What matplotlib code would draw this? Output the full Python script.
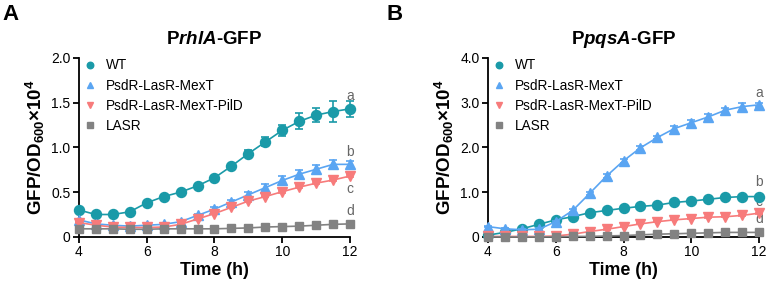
import matplotlib.pyplot as plt
import numpy as np

plt.rcParams['font.family'] = ['Liberation Sans', 'DejaVu Sans']
plt.rcParams['mathtext.fontset'] = 'custom'
plt.rcParams['mathtext.rm'] = 'Liberation Sans:bold'
plt.rcParams['mathtext.bf'] = 'Liberation Sans:bold'
plt.rcParams['mathtext.it'] = 'Liberation Sans:italic:bold'

time = [4, 4.5, 5, 5.5, 6, 6.5, 7, 7.5, 8, 8.5, 9, 9.5, 10, 10.5, 11, 11.5, 12]
names = ['WT', 'PsdR-LasR-MexT', 'PsdR-LasR-MexT-PilD', 'LASR']
colors = ['#1a9aa8', '#5aa5f2', '#f77b7b', '#828282']
markers = ['o', '^', 'v', 's']

# panel A: PrhlA-GFP
a_wt = [0.30, 0.25, 0.25, 0.28, 0.38, 0.45, 0.50, 0.57, 0.66, 0.79, 0.93, 1.06, 1.19, 1.29, 1.36, 1.40, 1.43]
a_wt_err = [0.02, 0.02, 0.02, 0.02, 0.02, 0.02, 0.02, 0.02, 0.02, 0.02, 0.04, 0.05, 0.06, 0.09, 0.08, 0.12, 0.09]
a_mext = [0.19, 0.145, 0.13, 0.12, 0.13, 0.14, 0.17, 0.24, 0.31, 0.39, 0.47, 0.55, 0.63, 0.70, 0.755, 0.81, 0.81]
a_mext_err = [0.01, 0.01, 0.01, 0.01, 0.01, 0.01, 0.01, 0.01, 0.02, 0.02, 0.03, 0.04, 0.05, 0.05, 0.05, 0.05, 0.04]
a_pild = [0.16, 0.13, 0.11, 0.105, 0.105, 0.11, 0.14, 0.20, 0.26, 0.33, 0.40, 0.45, 0.505, 0.555, 0.60, 0.635, 0.68]
a_pild_err = [0.01] * 17
a_lasr = [0.09, 0.09, 0.09, 0.085, 0.085, 0.09, 0.09, 0.09, 0.09, 0.095, 0.10, 0.11, 0.115, 0.12, 0.13, 0.14, 0.145]
a_lasr_err = [0.005] * 17

# panel B: PpqsA-GFP
b_wt = [0.04, 0.10, 0.18, 0.28, 0.38, 0.45, 0.54, 0.59, 0.64, 0.68, 0.71, 0.77, 0.80, 0.84, 0.88, 0.90, 0.90]
b_mext = [0.23, 0.18, 0.16, 0.17, 0.34, 0.59, 0.97, 1.36, 1.70, 1.99, 2.22, 2.42, 2.55, 2.68, 2.83, 2.91, 2.95]
b_mext_err = [0.02, 0.02, 0.02, 0.02, 0.02, 0.03, 0.03, 0.04, 0.04, 0.04, 0.04, 0.05, 0.05, 0.07, 0.05, 0.09, 0.05]
b_pild = [0.01, 0.01, 0.01, 0.01, 0.02, 0.06, 0.12, 0.17, 0.23, 0.29, 0.34, 0.38, 0.41, 0.44, 0.45, 0.48, 0.53]
b_lasr = [0.0, 0.0, 0.0, 0.0, 0.0, 0.01, 0.01, 0.02, 0.03, 0.045, 0.06, 0.07, 0.08, 0.09, 0.10, 0.10, 0.10]

sig_letters = ['a', 'b', 'c', 'd']
sig_a_y = [1.57, 0.95, 0.54, 0.29]
sig_b_y = [3.22, 1.22, 0.77, 0.40]

fig = plt.figure(figsize=(7.66, 2.82), dpi=100)
axA = fig.add_axes([0.103, 0.160, 0.354, 0.635])
axB = fig.add_axes([0.637, 0.160, 0.354, 0.635])


def draw(ax, series, errs, ymax, ytick_labels, title, sig_y):
    for i in [3, 2, 1, 0]:
        ax.errorbar(time, series[i], yerr=errs[i], color=colors[i], marker=markers[i],
                    markersize=5.8 if markers[i] == 's' else 7.2, lw=1.2,
                    capsize=3, elinewidth=1.2, capthick=1.2, label=names[i],
                    zorder=3 + i, clip_on=False)
    handles, labels = ax.get_legend_handles_labels()
    handles = [h[0] for h in handles][::-1]
    ax.legend(handles, labels[::-1], loc='upper left', bbox_to_anchor=(-0.005, 1.065),
              frameon=False, fontsize=9.8, handlelength=0, handletextpad=1.2,
              labelspacing=0.45, markerscale=0.65)
    for lab, y in zip(sig_letters, sig_y):
        ax.text(12, y, lab, ha='center', va='center', fontsize=10, color='#666666')
    ax.set_xlim(4, 12)
    ax.set_ylim(0, ymax)
    ax.set_xticks([4, 6, 8, 10, 12])
    ax.set_yticks(np.linspace(0, ymax, 5))
    ax.set_yticklabels(ytick_labels)
    ax.tick_params(labelsize=10, width=1.3, length=4, direction='out', pad=2)
    for s in ['top', 'right']:
        ax.spines[s].set_visible(False)
    for s in ['left', 'bottom']:
        ax.spines[s].set_linewidth(1.3)
    ax.set_xlabel('Time (h)', fontsize=12.8, fontweight='bold', labelpad=2)
    ax.set_ylabel(r'GFP/OD$_{\mathbf{600}}$×10$^{\mathbf{4}}$', fontsize=13.5,
                  fontweight='bold', labelpad=3)
    ax.set_title(title, fontsize=13.5, fontweight='bold', pad=10)


draw(axA, [a_wt, a_mext, a_pild, a_lasr], [a_wt_err, a_mext_err, a_pild_err, a_lasr_err],
     2.0, ['0', '0.5', '1.0', '1.5', '2.0'], r'P$\it{rhlA}$-GFP', sig_a_y)
draw(axB, [b_wt, b_mext, b_pild, b_lasr], [[0.02] * 17, b_mext_err, [0.01] * 17, [0.01] * 17],
     4.0, ['0', '1.0', '2.0', '3.0', '4.0'], r'P$\it{pqsA}$-GFP', sig_b_y)

fig.text(0.003, 0.985, 'A', fontsize=16, fontweight='bold', va='top')
fig.text(0.505, 0.985, 'B', fontsize=16, fontweight='bold', va='top')

fig.savefig('out.png', dpi=100)
